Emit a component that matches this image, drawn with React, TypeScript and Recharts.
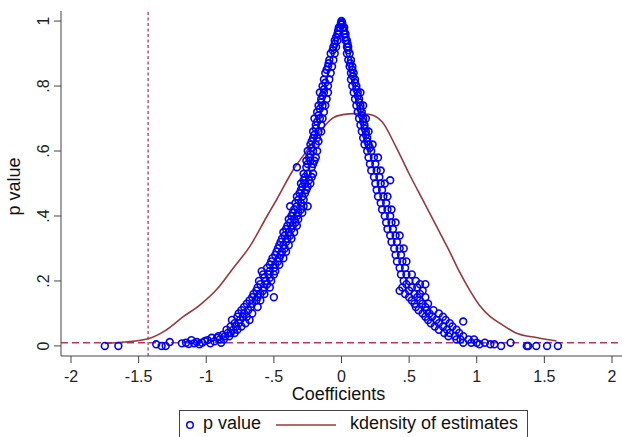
import React from 'react';
import { ComposedChart, Scatter, Line, XAxis, YAxis, ReferenceLine, Label, Legend } from 'recharts';

const xTicks = [-2, -1.5, -1, -0.5, 0, 0.5, 1, 1.5, 2];
const yTicks = [0, 0.2, 0.4, 0.6, 0.8, 1];
const xDomain: [number, number] = [-2.074, 2.074];
const yDomain: [number, number] = [-0.031, 1.031];
const thresholdCoef = -1.43;
const thresholdP = 0.01;

// p value scatter: left tail [coef, p]
const leftTail: [number, number][] = [
  [-1.75, 0], [-1.65, 0], [-1.37, 0.005], [-1.33, 0], [-1.3, 0], [-1.27, 0.012],
  [-1.18, 0.008], [-1.15, 0.01], [-1.13, 0.006], [-1.11, 0.018], [-1.09, 0.008],
  [-1.07, 0.012], [-1.05, 0.005], [-1.03, 0.01], [-1.01, 0.015], [-0.99, 0.018],
  [-0.97, 0.008], [-0.96, 0.025], [-0.94, 0.014], [-0.92, 0.025], [-0.9, 0.02],
  [-0.89, 0.01], [-0.88, 0.034], [-0.87, 0.02],
];

// rising side: [p, coefs at that p]
const risingBand: [number, number[]][] = [
  [0.03, [-0.91, -0.86, -0.83]], [0.04, [-0.84, -0.82, -0.79]], [0.05, [-0.85, -0.8, -0.77]],
  [0.06, [-0.82, -0.78, -0.74]], [0.07, [-0.79, -0.76, -0.71]], [0.08, [-0.81, -0.75, -0.68]],
  [0.09, [-0.77, -0.73, -0.7]], [0.1, [-0.76, -0.72, -0.66]], [0.11, [-0.74, -0.69]],
  [0.12, [-0.72, -0.67, -0.62]], [0.13, [-0.7, -0.66]], [0.14, [-0.68, -0.63, -0.6]],
  [0.15, [-0.66, -0.62, -0.5]], [0.16, [-0.65, -0.6, -0.57]], [0.17, [-0.63, -0.58]],
  [0.18, [-0.62, -0.57, -0.53]], [0.19, [-0.6, -0.55]], [0.2, [-0.61, -0.56, -0.52]],
  [0.21, [-0.57, -0.53]], [0.22, [-0.58, -0.54, -0.5]], [0.23, [-0.59, -0.53, -0.49]],
  [0.24, [-0.55, -0.5]], [0.25, [-0.53, -0.49, -0.46]], [0.26, [-0.52, -0.47]],
  [0.27, [-0.51, -0.46, -0.43]], [0.28, [-0.49, -0.45]], [0.29, [-0.48, -0.44, -0.41]],
  [0.3, [-0.47, -0.42]], [0.31, [-0.46, -0.43, -0.39]], [0.32, [-0.45, -0.41]],
  [0.33, [-0.44, -0.4, -0.37]], [0.34, [-0.42, -0.38]], [0.35, [-0.43, -0.39, -0.35]],
  [0.36, [-0.41, -0.37]], [0.37, [-0.4, -0.36, -0.33]], [0.38, [-0.38, -0.34]],
  [0.39, [-0.39, -0.35, -0.32]], [0.4, [-0.37, -0.33]], [0.41, [-0.36, -0.32, -0.29]],
  [0.42, [-0.35, -0.3]], [0.43, [-0.38, -0.33, -0.28, -0.25]], [0.44, [-0.34, -0.3]],
  [0.45, [-0.32, -0.28]], [0.46, [-0.33, -0.29]], [0.47, [-0.31, -0.27]],
  [0.48, [-0.3, -0.26]], [0.49, [-0.29, -0.25]], [0.5, [-0.3, -0.27, -0.23]],
  [0.51, [-0.28, -0.24]], [0.52, [-0.27, -0.22]], [0.53, [-0.28, -0.25, -0.21]],
  [0.55, [-0.33, -0.26, -0.22]], [0.56, [-0.25, -0.21]], [0.57, [-0.26, -0.23, -0.2]],
  [0.58, [-0.24, -0.19]], [0.59, [-0.23]], [0.6, [-0.25, -0.21, -0.18]], [0.61, [-0.22]],
  [0.62, [-0.23, -0.19]], [0.63, [-0.22, -0.17]], [0.64, [-0.21, -0.18]], [0.65, [-0.2]],
  [0.66, [-0.21, -0.17, -0.15]], [0.67, [-0.19]], [0.68, [-0.19, -0.15]], [0.69, [-0.18]],
  [0.7, [-0.2, -0.16, -0.14]], [0.71, [-0.17]], [0.72, [-0.18, -0.13]], [0.73, [-0.16]],
  [0.74, [-0.17, -0.14, -0.12]], [0.75, [-0.15]], [0.76, [-0.15, -0.11]], [0.77, [-0.14]],
  [0.78, [-0.16, -0.13, -0.1]], [0.79, [-0.13]], [0.8, [-0.14, -0.1]], [0.81, [-0.12]],
  [0.82, [-0.13, -0.09]], [0.84, [-0.12, -0.08]], [0.85, [-0.11]],
  [0.86, [-0.1, -0.07]], [0.87, [-0.095]], [0.88, [-0.09, -0.06]], [0.9, [-0.08, -0.05]],
  [0.91, [-0.065]], [0.92, [-0.06, -0.04]], [0.93, [-0.05]], [0.94, [-0.05, -0.03]],
  [0.95, [-0.04]], [0.96, [-0.03, -0.02]], [0.97, [-0.025]],
  [0.98, [-0.02, -0.01]], [0.99, [-0.005]],
];

const peakPoints: [number, number][] = [[0, 1], [0.005, 0.995], [-0.003, 0.995]];

// falling side: [p, coefs at that p]
const fallingBand: [number, number[]][] = [
  [0.99, [0.005]], [0.98, [0.01, 0.02]], [0.97, [0.02]], [0.96, [0.02, 0.03]], [0.95, [0.03]],
  [0.94, [0.03, 0.04]], [0.93, [0.045]], [0.92, [0.04, 0.05]], [0.91, [0.05]], [0.9, [0.04, 0.06]],
  [0.88, [0.05, 0.07]], [0.87, [0.065]], [0.86, [0.06, 0.08]], [0.85, [0.08]],
  [0.84, [0.07, 0.09]], [0.83, [0.085]], [0.82, [0.07, 0.1]], [0.81, [0.1]], [0.8, [0.08, 0.11]],
  [0.79, [0.11]], [0.78, [0.09, 0.12, 0.14]], [0.77, [0.12]], [0.76, [0.1, 0.13]], [0.75, [0.13]],
  [0.74, [0.11, 0.14, 0.16]], [0.73, [0.14]], [0.72, [0.12, 0.15]], [0.71, [0.15]],
  [0.7, [0.13, 0.16, 0.18]], [0.69, [0.16]], [0.68, [0.14, 0.17]], [0.67, [0.17]],
  [0.66, [0.15, 0.18, 0.2]], [0.65, [0.18]], [0.64, [0.16, 0.19]], [0.63, [0.19]],
  [0.62, [0.17, 0.2, 0.23]], [0.61, [0.21]],
  [0.6, [0.19, 0.22]], [0.58, [0.2, 0.24, 0.27]], [0.56, [0.21, 0.25]], [0.54, [0.22, 0.26, 0.29]],
  [0.52, [0.24, 0.28]], [0.51, [0.36]], [0.5, [0.25, 0.29, 0.32]], [0.48, [0.26, 0.3]],
  [0.46, [0.27, 0.31, 0.34]], [0.44, [0.29, 0.33]], [0.42, [0.3, 0.34, 0.37]], [0.4, [0.32, 0.36]],
  [0.38, [0.33, 0.37, 0.4]], [0.36, [0.34, 0.38]], [0.34, [0.36, 0.4, 0.43]], [0.32, [0.37, 0.41]],
  [0.3, [0.39, 0.43, 0.46]], [0.28, [0.4, 0.44]], [0.26, [0.41, 0.45, 0.48]], [0.24, [0.43, 0.47]],
  [0.22, [0.44, 0.48, 0.52]], [0.2, [0.46, 0.5, 0.55]], [0.19, [0.48, 0.58, 0.62]],
  [0.18, [0.45, 0.52, 0.56]], [0.17, [0.43, 0.5, 0.6]], [0.16, [0.47, 0.54, 0.58]],
  [0.15, [0.5, 0.56, 0.62]], [0.14, [0.52, 0.58]], [0.13, [0.54, 0.6, 0.64]], [0.12, [0.55, 0.62]],
  [0.11, [0.57, 0.63, 0.68]], [0.1, [0.6, 0.65, 0.72]], [0.09, [0.62, 0.67, 0.75]],
  [0.08, [0.64, 0.7, 0.77]], [0.075, [0.9]], [0.07, [0.66, 0.72, 0.8]], [0.06, [0.69, 0.75, 0.82]],
  [0.05, [0.72, 0.78, 0.85]], [0.04, [0.76, 0.8, 0.87]], [0.03, [0.79, 0.84, 0.9]],
  [0.02, [0.85, 0.88, 0.94, 0.98]], [0.01, [0.9, 0.96, 1.0, 1.06, 1.25]],
  [0.005, [1.02, 1.1, 1.13]], [0, [1.18, 1.37, 1.38, 1.44, 1.52, 1.6]],
];

// kernel density of estimates
const kdensityX = [-1.75, -1.6, -1.43, -1.3, -1.17, -1.05, -0.92, -0.8, -0.68, -0.55, -0.48, -0.36, -0.24, -0.14, -0.07, 0.01, 0.1, 0.2, 0.3, 0.4, 0.5, 0.6, 0.7, 0.8, 0.87, 0.95, 1.02, 1.1, 1.17, 1.29, 1.45, 1.59];
const kdensityY = [0.008, 0.012, 0.022, 0.048, 0.09, 0.125, 0.175, 0.24, 0.305, 0.4, 0.45, 0.54, 0.61, 0.67, 0.7, 0.712, 0.715, 0.713, 0.69, 0.615, 0.53, 0.45, 0.37, 0.29, 0.23, 0.17, 0.125, 0.09, 0.07, 0.04, 0.025, 0.015];

const FONT = '"Liberation Sans", Arial, Helvetica, sans-serif';
const BLUE = '#0000ff';
const KD_COLOR = '#97393c';
const REF_COLOR = '#b8365a';
const AXIS_COLOR = '#444';

const scatterData = [
  ...leftTail.map(([x, y]) => ({ x, y })),
  ...risingBand.flatMap(([y, xs]) => xs.map((x) => ({ x, y }))),
  ...peakPoints.map(([x, y]) => ({ x, y })),
  ...fallingBand.flatMap(([y, xs]) => xs.map((x) => ({ x, y }))),
];
const kdData = kdensityX.map((x, i) => ({ x, y: kdensityY[i] }));

const fmt = (v: number) => String(Math.round(v * 100) / 100).replace(/^(-?)0\./, '$1.');

const YTick = (props: any) => {
  const { x, y, payload } = props;
  return (
    <text x={x} y={y} transform={`rotate(-90, ${x}, ${y})`} textAnchor="middle" fontSize={16} fill="#222" fontFamily={FONT}>
      {fmt(payload.value)}
    </text>
  );
};

const HollowCircle = (props: any) => {
  const { cx, cy } = props;
  if (cx == null || cy == null) return null;
  return <circle cx={cx} cy={cy} r={3.4} fill="none" stroke={BLUE} strokeWidth={1.6} />;
};

const YTitle = (props: any) => {
  const vb = props.viewBox || { x: 0, y: 11, width: 61, height: 345 };
  const x = vb.x + 20;
  const y = vb.y + vb.height / 2 + 3;
  return (
    <text x={x} y={y} transform={`rotate(-90, ${x}, ${y})`} textAnchor="middle" fontSize={18} fill="#111" fontFamily={FONT}>
      p value
    </text>
  );
};

const XTitle = (props: any) => {
  const vb = props.viewBox || { x: 61, y: 356, width: 561, height: 45 };
  return (
    <text x={vb.x + vb.width / 2 - 3} y={vb.y + 44} textAnchor="middle" fontSize={18} fill="#111" fontFamily={FONT}>
      Coefficients
    </text>
  );
};

const LegendBox = () => (
  <svg width={349} height={30} style={{ display: 'block' }}>
    <rect x={0.5} y={0.5} width={348} height={40} fill="#fff" stroke={AXIS_COLOR} strokeWidth={1} />
    <circle cx={11} cy={15} r={3.3} fill="none" stroke={BLUE} strokeWidth={1.5} />
    <text x={24} y={19} fontSize={18} fill="#111" fontFamily={FONT}>p value</text>
    <line x1={97} x2={157} y1={15} y2={15} stroke={KD_COLOR} strokeWidth={1.3} />
    <text x={171} y={19} fontSize={18} fill="#111" fontFamily={FONT}>kdensity of estimates</text>
  </svg>
);

export default function App() {
  return (
    <div style={{ position: 'absolute', left: 0, top: 0, width: 622, height: 437, background: '#fff', overflow: 'hidden' }}>
      <ComposedChart width={622} height={437} margin={{ top: 11, right: 0, bottom: 36, left: 0 }}>
        <XAxis
          type="number"
          dataKey="x"
          domain={xDomain}
          ticks={xTicks}
          interval={0}
          tickFormatter={fmt}
          tickSize={7}
          tickMargin={8}
          height={45}
          stroke={AXIS_COLOR}
          tick={{ fontSize: 16, fill: '#222', fontFamily: FONT }}
          allowDataOverflow
        >
          <Label content={<XTitle />} />
        </XAxis>
        <YAxis
          type="number"
          domain={yDomain}
          ticks={yTicks}
          interval={0}
          width={61}
          tickSize={7}
          tickMargin={5}
          stroke={AXIS_COLOR}
          tick={<YTick />}
          allowDataOverflow
        >
          <Label content={<YTitle />} />
        </YAxis>
        <ReferenceLine x={thresholdCoef} stroke={REF_COLOR} strokeWidth={1.3} strokeDasharray="3 2.5" />
        <ReferenceLine y={thresholdP} stroke={REF_COLOR} strokeWidth={1.5} strokeDasharray="7 4" />
        <Scatter name="p value" data={scatterData} dataKey="y" shape={<HollowCircle />} isAnimationActive={false} />
        <Line
          name="kdensity of estimates"
          data={kdData}
          dataKey="y"
          type="monotone"
          stroke={KD_COLOR}
          strokeWidth={1.6}
          dot={false}
          activeDot={false}
          isAnimationActive={false}
        />
        <Legend
          verticalAlign="middle"
          align="center"
          layout="horizontal"
          content={() => <LegendBox />}
          wrapperStyle={{ left: 179, top: 410, width: 349, height: 30 }}
        />
      </ComposedChart>
    </div>
  );
}
